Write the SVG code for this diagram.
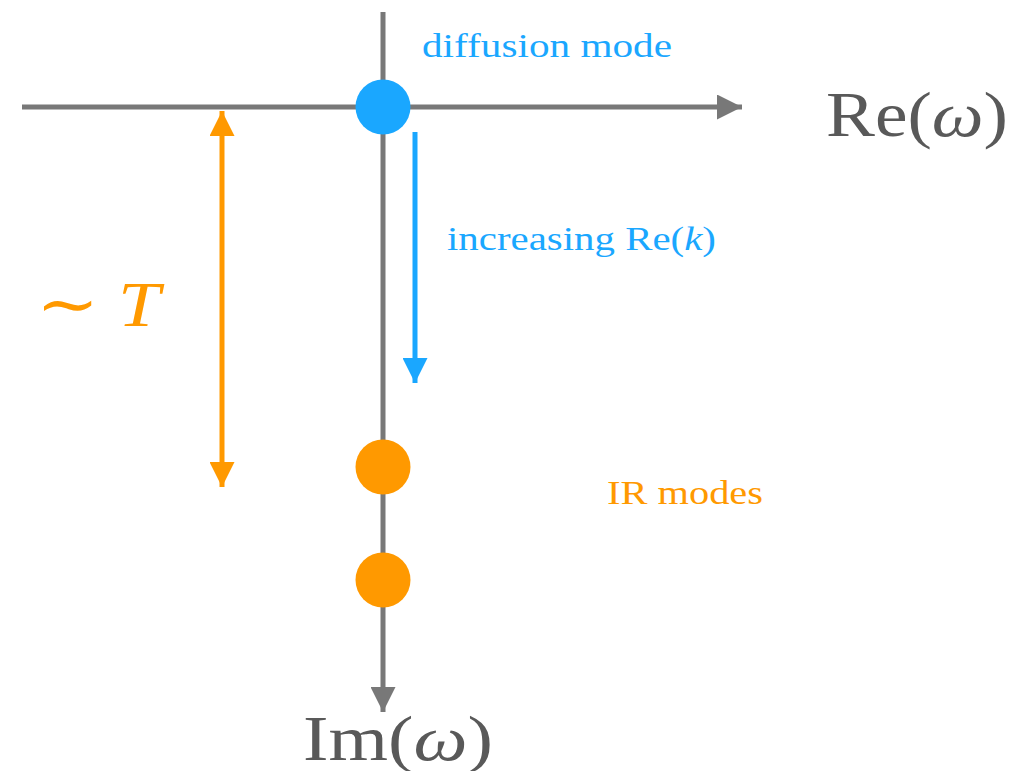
<svg xmlns="http://www.w3.org/2000/svg" width="1036" height="771" viewBox="0 0 1036 771">
  <style>
    .axis { stroke: #787878; stroke-width: 5; fill: none; }
    .lbl { font-family: "Liberation Serif", "DejaVu Serif", serif; }
    .gray { fill: #595959; }
    .blue { fill: #1AA7FF; }
    .orange { fill: #FF9900; }
    .it { font-style: italic; }
  </style>
  <defs>
    <marker id="headGray" viewBox="0 0 10 10" refX="10" refY="5" markerWidth="5" markerHeight="5" markerUnits="strokeWidth" orient="auto">
      <path d="M0,0 L10,5 L0,10 Z" fill="#787878"/>
    </marker>
    <marker id="headBlue" viewBox="0 0 10 10" refX="10" refY="5" markerWidth="5" markerHeight="5" markerUnits="strokeWidth" orient="auto">
      <path d="M0,0 L10,5 L0,10 Z" fill="#1AA7FF"/>
    </marker>
    <marker id="headOrange" viewBox="0 0 10 10" refX="10" refY="5" markerWidth="5" markerHeight="5" markerUnits="strokeWidth" orient="auto-start-reverse">
      <path d="M0,0 L10,5 L0,10 Z" fill="#FF9900"/>
    </marker>
  </defs>

  <g id="connectors">
    <!-- Re(ω) axis -->
    <line class="axis" x1="22" y1="107" x2="742" y2="107" marker-end="url(#headGray)"/>
    <!-- Im(ω) axis -->
    <line class="axis" x1="383" y1="12" x2="383" y2="712" marker-end="url(#headGray)"/>
    <!-- direction of increasing Re(k) -->
    <line x1="415" y1="132" x2="415" y2="383" stroke="#1AA7FF" stroke-width="5" marker-end="url(#headBlue)"/>
    <!-- temperature scale -->
    <line x1="222" y1="111" x2="222" y2="487" stroke="#FF9900" stroke-width="5" marker-start="url(#headOrange)" marker-end="url(#headOrange)"/>
  </g>

  <g id="diffusion-mode">
    <circle cx="383" cy="107" r="27.5" fill="#1AA7FF"/>
    <text class="lbl blue" x="422" y="57" font-size="34" textLength="250" lengthAdjust="spacingAndGlyphs">diffusion mode</text>
  </g>

  <g id="ir-mode-1">
    <circle cx="383" cy="467" r="27.5" fill="#FF9900"/>
  </g>
  <g id="ir-mode-2">
    <circle cx="383" cy="580" r="27.5" fill="#FF9900"/>
  </g>

  <g id="labels">
    <text class="lbl gray" x="826" y="136" font-size="64" textLength="182" lengthAdjust="spacingAndGlyphs">Re(<tspan class="it">ω</tspan>)</text>
    <text class="lbl gray" x="303" y="760" font-size="64" textLength="190" lengthAdjust="spacingAndGlyphs">Im(<tspan class="it">ω</tspan>)</text>
    <text class="lbl blue" x="447" y="250" font-size="34" textLength="269" lengthAdjust="spacingAndGlyphs">increasing Re(<tspan class="it">k</tspan>)</text>
    <text class="lbl orange" x="607" y="504" font-size="34" textLength="156" lengthAdjust="spacingAndGlyphs">IR modes</text>
    <text class="lbl orange" x="36" y="326" font-size="64" textLength="124" lengthAdjust="spacingAndGlyphs">∼ <tspan class="it">T</tspan></text>
  </g>
</svg>
